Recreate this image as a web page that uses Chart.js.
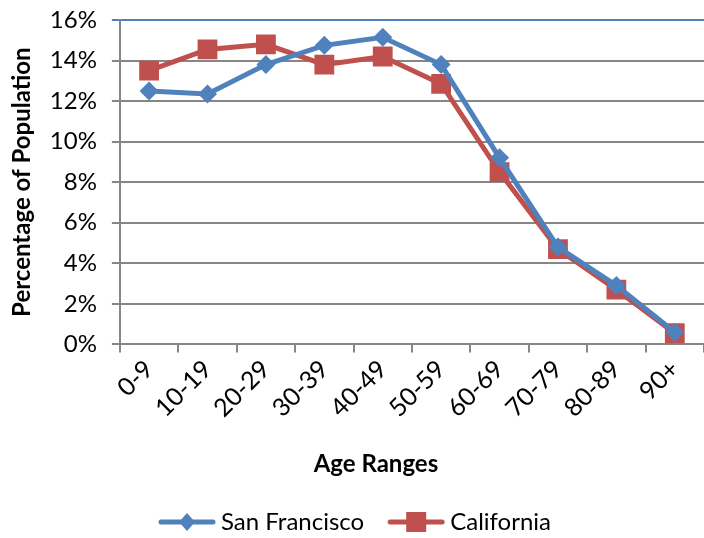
<!DOCTYPE html>
<html lang="en">
<head>
  <meta charset="UTF-8" />
  <title>Population by Age</title>
  <script src="https://cdn.jsdelivr.net/npm/chart.js"></script>
  <style>
    html, body { margin: 0; padding: 0; background: #fff; overflow: hidden; }
    #wrap { width: 704px; height: 538px; }
  </style>
</head>
<body>
  <div id="wrap"><canvas id="ageChart"></canvas></div>

  <script>
    const ageRanges = ["0-9", "10-19", "20-29", "30-39", "40-49", "50-59", "60-69", "70-79", "80-89", "90+"];
    const sanFrancisco = [12.5, 12.35, 13.8, 14.75, 15.15, 13.8, 9.2, 4.8, 2.9, 0.6];
    const california = [13.5, 14.55, 14.8, 13.8, 14.2, 12.85, 8.5, 4.7, 2.7, 0.55];

    const blue = "#4f81bd";
    const red = "#c0504d";
    const font = "Lato, 'Liberation Sans', sans-serif";

    // little legend swatch: line with the marker on it
    function swatch(color, shape) {
      const c = document.createElement("canvas");
      c.width = 58; c.height = 22;
      const ctx = c.getContext("2d");
      ctx.strokeStyle = color;
      ctx.lineWidth = 5;
      ctx.lineCap = "round";
      ctx.beginPath();
      ctx.moveTo(3, 11); ctx.lineTo(55, 11);
      ctx.stroke();
      ctx.fillStyle = color;
      if (shape === "diamond") {
        ctx.beginPath();
        ctx.moveTo(29, 2); ctx.lineTo(37, 11); ctx.lineTo(29, 20); ctx.lineTo(21, 11);
        ctx.closePath();
        ctx.fill();
      } else {
        ctx.fillRect(19, 1, 20, 20);
      }
      return c;
    }

    new Chart(document.getElementById("ageChart"), {
      type: "line",
      data: {
        labels: ageRanges,
        datasets: [{
          label: "San Francisco",
          data: sanFrancisco,
          borderColor: blue,
          backgroundColor: blue,
          borderWidth: 5,
          pointStyle: "rectRot",
          pointRadius: 9.5,
          pointBorderWidth: 0,
          tension: 0
        }, {
          label: "California",
          data: california,
          borderColor: red,
          backgroundColor: red,
          borderWidth: 5,
          pointStyle: "rect",
          pointRadius: 14,
          pointBorderWidth: 0,
          tension: 0
        }]
      },
      options: {
        responsive: true,
        maintainAspectRatio: false,
        animation: false,
        layout: { autoPadding: false, padding: { left: 8, top: 20, right: -4, bottom: -6 } },
        plugins: {
          tooltip: { enabled: false },
          legend: {
            position: "bottom",
            labels: {
              usePointStyle: true,
              pointStyleWidth: 44,
              color: "#000",
              font: { family: font, size: 24 },
              padding: 30,
              generateLabels(chart) {
                return chart.data.datasets.map((ds, i) => ({
                  text: ds.label,
                  pointStyle: swatch(ds.borderColor, i === 0 ? "diamond" : "square"),
                  fillStyle: ds.borderColor,
                  strokeStyle: ds.borderColor,
                  lineWidth: 0,
                  hidden: false,
                  datasetIndex: i,
                  fontColor: "#000"
                }));
              }
            }
          }
        },
        scales: {
          x: {
            offset: true,
            grid: {
              offset: true,
              drawOnChartArea: false,
              drawTicks: true,
              tickLength: 8,
              color: "#868686",
              lineWidth: 2
            },
            border: { color: "#868686", width: 2 },
            ticks: {
              minRotation: 45,
              maxRotation: 45,
              color: "#000",
              font: { family: font, size: 25 },
              padding: 2
            },
            title: {
              display: true,
              // trailing em spaces nudge the centred title left, as in the original
              text: "Age Ranges\u2003\u2003\u2003\u2003",
              color: "#000",
              font: { family: font, size: 24, weight: "bold" },
              padding: { top: 25, bottom: 1 }
            }
          },
          y: {
            min: 0,
            max: 16,
            // the label gap would otherwise push the plot top down
            afterFit: scale => { scale.paddingTop = 6; },
            grid: {
              color: ctx => (ctx.tick && ctx.tick.value === 16 ? blue : "#868686"),
              lineWidth: 2,
              tickLength: 8
            },
            border: { color: "#868686", width: 2 },
            ticks: {
              stepSize: 2,
              color: "#000",
              font: { family: font, size: 24 },
              padding: 15,
              callback: v => v + "%"
            },
            title: {
              display: true,
              text: "Percentage of Population",
              color: "#000",
              font: { family: font, size: 24, weight: "bold" },
              padding: { top: 0, bottom: -2 }
            }
          }
        }
      }
    });
  </script>
</body>
</html>
